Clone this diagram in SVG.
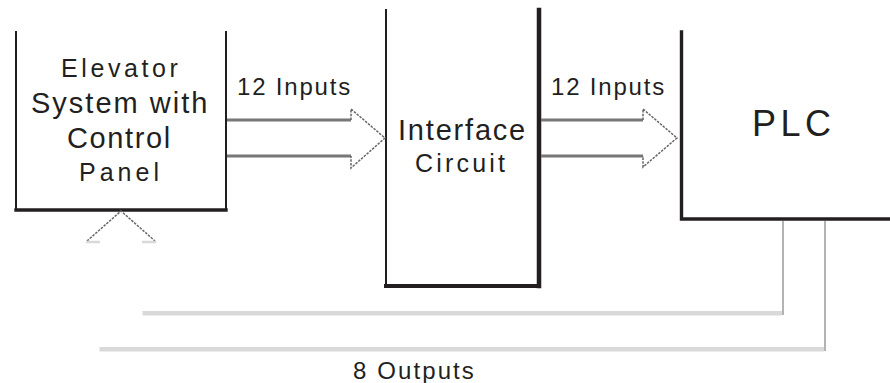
<svg xmlns="http://www.w3.org/2000/svg" width="890" height="383" viewBox="0 0 890 383">
<style>
.bx{stroke:#231f20;fill:none;stroke-linecap:square}
.t{font-family:"Liberation Sans",Arial,sans-serif;fill:#231f20}
.sh{stroke:#777;stroke-width:3;fill:none}
.hd{stroke:#666;stroke-width:1.5;fill:none;stroke-dasharray:2.5 1.2}
.fh{stroke:#d9d9d9;stroke-width:4.5;fill:none}
.fv{stroke:#b3b3b3;stroke-width:2;fill:none}
</style>
<rect width="890" height="383" fill="#fff"/>
<g id="elevator">
<line class="bx" x1="16" y1="32" x2="16" y2="210" stroke-width="2"/>
<line class="bx" x1="226" y1="32" x2="226" y2="210" stroke-width="2"/>
<line class="bx" x1="16" y1="210" x2="226" y2="210" stroke-width="3.4"/>
<text class="t" x="61" y="77" font-size="25" letter-spacing="3.6">Elevator</text>
<text class="t" x="31" y="112.5" font-size="29" letter-spacing="2">System with</text>
<text class="t" x="67" y="148" font-size="29" letter-spacing="1.6">Control</text>
<text class="t" x="79" y="181" font-size="25" letter-spacing="4">Panel</text>
</g>
<g id="interface">
<line class="bx" x1="386" y1="10" x2="386" y2="286" stroke-width="2"/>
<line class="bx" x1="539" y1="10" x2="539" y2="286" stroke-width="4.5"/>
<line class="bx" x1="386" y1="286" x2="539" y2="286" stroke-width="4"/>
<text class="t" x="398" y="139.5" font-size="29" letter-spacing="1.8">Interface</text>
<text class="t" x="415" y="171.5" font-size="25" letter-spacing="3.2">Circuit</text>
</g>
<g id="plc">
<polyline class="bx" points="681.5,32 681.5,219 895,219" stroke-width="3.4"/>
<text class="t" x="752" y="135.5" font-size="36" letter-spacing="4.5">PLC</text>
</g>
<g id="connectors">
<line class="sh" x1="227" y1="120" x2="351" y2="120"/>
<line class="sh" x1="227" y1="156" x2="351" y2="156"/>
<polyline class="hd" points="351,120 351,109 385,138 351,168 351,156"/>
<text class="t" x="237" y="95" font-size="24" letter-spacing="1.8">12 Inputs</text>
<line class="sh" x1="541" y1="120" x2="643" y2="120"/>
<line class="sh" x1="541" y1="156" x2="643" y2="156"/>
<polyline class="hd" points="643,120 643,109 677,138 643,167 643,156"/>
<text class="t" x="551" y="95" font-size="24" letter-spacing="1.8">12 Inputs</text>
<line class="fv" x1="783" y1="221" x2="783" y2="315"/>
<line class="fv" x1="825" y1="221" x2="825" y2="351"/>
<line class="fh" x1="142.5" y1="313.3" x2="782" y2="313.3"/>
<line class="fh" x1="99.5" y1="349.3" x2="824" y2="349.3"/>
<polyline class="hd" points="87,241 121,211 155,241"/>
<line stroke="#d9d9d9" stroke-width="2.5" x1="86" y1="242" x2="100" y2="242"/>
<line stroke="#d9d9d9" stroke-width="2.5" x1="142" y1="242" x2="156" y2="242"/>
<text class="t" x="353" y="379" font-size="24" letter-spacing="2.1">8 Outputs</text>
</g>
</svg>
